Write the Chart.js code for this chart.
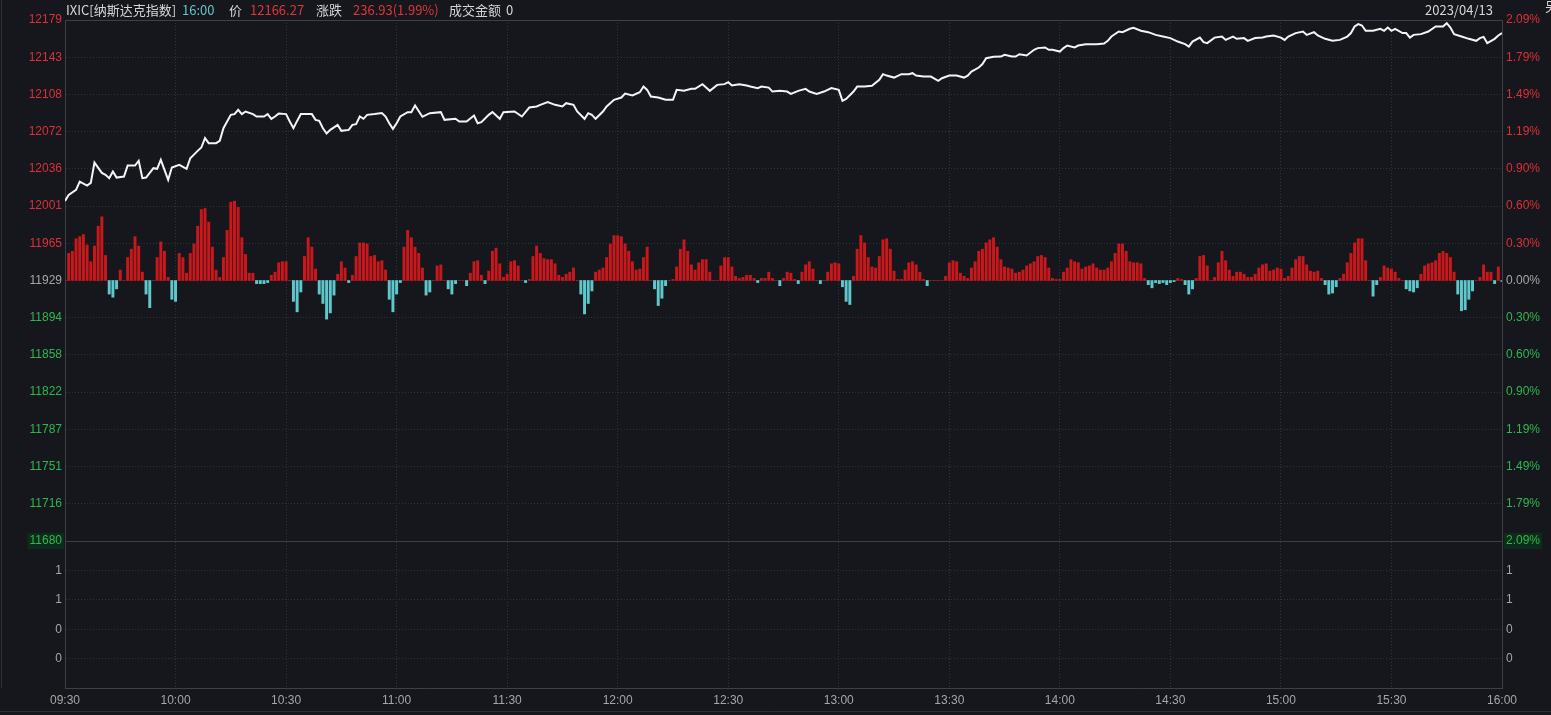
<!DOCTYPE html>
<html><head><meta charset="utf-8">
<script src="https://cdn.jsdelivr.net/npm/chart.js@4.4.0/dist/chart.umd.min.js"></script>
<style>
html,body{margin:0;padding:0;background:#15171c;overflow:hidden;}
#wrap{position:relative;width:1551px;height:715px;overflow:hidden;}
canvas{position:absolute;left:0;top:0;}
.hd{position:absolute;top:1px;font:13px "Noto Sans CJK SC","Liberation Sans",sans-serif;line-height:18px;white-space:nowrap;color:#d6d6d6;}
</style></head><body>
<div id="wrap">
<canvas id="c" width="1551" height="715"></canvas>
<span class="hd" style="left:66px">IXIC[纳斯达克指数]</span>
<span class="hd" style="left:182px;color:#5ec8c8">16:00</span>
<span class="hd" style="left:229px">价</span>
<span class="hd" style="left:250px;color:#e0353b">12166.27</span>
<span class="hd" style="left:316px">涨跌</span>
<span class="hd" style="left:353px;color:#e0353b">236.93(1.99%)</span>
<span class="hd" style="left:449px">成交金额</span>
<span class="hd" style="left:506px">0</span>
<span class="hd" style="left:1425px">2023/04/13</span>
<span class="hd" style="left:1545px;top:-3px">另</span>
</div>
<script>
// ---- data ----
const PREV_CLOSE = 11929.34;
const RANGE = 249.5;

const priceMinute = [0,1,3,4,6,7,8,10,11,12,13,14,16,17,19,20,21,22,24,25,26,27,28,29,31,33,34,36,37,38,39,41,42,43,45,46,47,48,49,51,52,54,55,56,57,58,60,61,62,63,64,67,68,69,70,71,72,74,75,77,78,79,80,81,82,84,86,87,88,89,90,91,93,94,95,97,99,102,103,106,107,109,111,112,113,115,116,118,119,122,124,126,128,129,131,133,135,136,138,139,141,142,143,144,146,147,149,151,152,154,156,157,158,159,161,163,165,166,168,170,171,173,174,175,177,179,180,181,183,185,186,188,189,191,192,194,196,197,199,201,202,204,206,208,210,211,212,214,215,217,219,221,222,223,225,227,229,230,231,233,235,237,238,240,242,244,245,246,248,249,250,252,254,255,257,258,259,261,263,264,266,267,268,270,271,272,274,275,277,280,282,283,284,286,287,289,290,292,294,296,298,300,302,304,305,306,308,309,310,312,314,315,317,318,320,321,323,325,326,328,330,331,332,334,336,337,339,340,342,344,346,348,349,350,351,352,353,355,357,358,359,360,361,363,364,365,366,368,370,372,374,375,376,377,379,381,383,384,385,386,388,389,390];
const priceValue = [12005.6,12011.3,12016.1,12024.1,12020.3,12022.8,12042.3,12032.4,12030.5,12027.3,12033.7,12027.9,12028.9,12039.4,12039.4,12043.9,12027.3,12027.9,12036.9,12036.3,12044.9,12035.3,12025.7,12037.5,12040.1,12036.3,12046.5,12053.5,12056.7,12065.7,12060.9,12060.9,12063.1,12075.2,12088.0,12088.7,12092.8,12088.7,12091.2,12088.7,12086.4,12086.4,12088.7,12084.2,12086.4,12089.2,12088.7,12081.6,12075.2,12082.2,12088.7,12088.7,12083.2,12082.2,12075.2,12070.1,12073.6,12078.4,12072.7,12073.6,12078.4,12079.1,12086.4,12084.2,12088.0,12088.7,12089.7,12086.4,12080.0,12074.6,12080.0,12086.4,12090.6,12090.6,12096.9,12086.1,12089.6,12090.6,12083.2,12084.2,12081.6,12081.6,12087.3,12080.0,12081.0,12088.0,12090.6,12084.2,12090.6,12091.2,12086.4,12095.0,12096.0,12097.6,12100.2,12097.6,12096.0,12099.2,12097.6,12091.2,12084.2,12089.6,12088.0,12084.2,12091.2,12096.0,12102.4,12104.6,12108.4,12106.5,12109.7,12115.1,12111.9,12105.5,12104.6,12102.4,12102.4,12112.0,12111.0,12112.9,12112.9,12117.4,12114.1,12111.0,12116.7,12117.4,12119.3,12116.1,12117.4,12116.1,12115.1,12113.6,12115.1,12114.1,12110.3,12111.0,12110.3,12108.1,12111.0,12112.9,12110.3,12108.1,12110.3,12113.6,12111.9,12101.4,12103.3,12110.3,12115.1,12115.1,12115.8,12121.5,12127.0,12125.6,12123.7,12127.0,12127.0,12127.9,12125.6,12124.7,12124.7,12120.6,12123.1,12125.6,12125.6,12123.7,12125.6,12129.5,12133.3,12136.6,12142.3,12143.6,12143.8,12145.5,12143.8,12143.8,12146.1,12144.8,12150.3,12151.9,12152.5,12150.3,12150.3,12148.6,12151.9,12154.4,12152.5,12154.4,12155.7,12155.7,12156.3,12158.9,12163.0,12167.8,12167.2,12170.4,12171.3,12168.5,12167.2,12164.6,12163.0,12161.5,12158.2,12155.7,12153.4,12158.2,12162.0,12157.6,12156.7,12162.0,12163.0,12159.8,12163.0,12160.8,12161.5,12158.9,12161.5,12162.0,12163.0,12164.0,12162.0,12159.8,12163.0,12166.3,12167.8,12164.6,12167.2,12164.0,12160.8,12158.9,12159.8,12163.0,12166.3,12172.6,12174.9,12173.6,12168.5,12168.5,12170.4,12168.5,12171.6,12168.5,12170.4,12166.3,12166.3,12162.0,12164.6,12165.3,12167.8,12172.6,12172.6,12175.8,12171.6,12165.3,12163.0,12160.8,12158.9,12161.5,12162.7,12156.7,12160.8,12164.0,12166.27];

// per-minute red/green flow bars (index points relative to previous close), minute 0..390
const flowValue = [
0,26,28,40,42,44,34,18,33,52,
61,24,-13,-16,-8,10,0,22,30,42,
33,8,-13,-26,0,22,37,28,3,-18,
-20,26,22,7,26,35,52,68,69,56,
32,10,3,22,48,75,76,70,41,25,
7,7,-3,-3,-3,-2,5,8,17,18,
18,0,-20,-30,-11,23,41,32,11,-13,
-22,-37,-31,-14,6,18,12,-2,5,23,
36,36,35,23,24,18,19,10,-18,-30,
-13,-2,32,48,41,32,26,12,-14,-11,
0,14,15,0,-8,-13,-3,0,0,-5,
7,18,19,5,-3,9,28,31,16,3,
6,18,19,14,0,-2,1,23,33,26,
21,20,20,16,5,3,6,8,12,0,
-13,-32,-22,-10,8,10,12,22,35,43,
43,42,35,28,18,10,11,22,32,0,
-8,-24,-17,-5,0,1,13,30,39,28,
15,10,17,20,20,8,0,0,14,22,
22,13,4,2,3,5,5,2,-2,2,
2,8,2,0,-5,2,8,7,1,-3,
8,15,18,11,0,-3,0,8,16,17,
16,-6,-20,-23,4,30,43,36,22,13,
12,23,39,40,30,9,1,1,10,17,
18,15,8,1,-5,0,0,0,0,4,
17,19,18,7,4,2,12,18,28,30,
36,39,41,32,20,13,12,11,7,8,
10,14,16,18,23,24,22,12,2,1,
1,8,12,20,18,17,11,13,14,16,
12,10,10,12,18,26,35,35,28,18,
17,17,16,2,-4,-7,-2,-3,-2,-4,
-2,-1,2,1,-4,-13,-8,2,23,24,
14,0,3,17,28,19,10,4,8,8,
6,3,3,6,12,15,16,9,10,12,
11,2,4,12,20,23,23,15,9,8,
9,2,-4,-13,-12,-6,2,6,17,26,
36,40,40,19,0,-15,-4,3,14,12,
11,8,2,0,-8,-10,-11,-7,6,14,
16,17,19,26,28,26,22,8,-13,-29,
-28,-18,-10,0,3,15,8,8,-3,13,
-1];

const tickMinutes = [0,30,60,90,120,150,180,210,240,270,300,330,360,390];
const timeLabels = ['09:30','10:00','10:30','11:00','11:30','12:00','12:30','13:00','13:30','14:00','14:30','15:00','15:30','16:00'];
// top to bottom
const priceTickLabels = ['12179','12143','12108','12072','12036','12001','11965','11929','11894','11858','11822','11787','11751','11716','11680'];
const pctTickLabels = ['2.09%','1.79%','1.49%','1.19%','0.90%','0.60%','0.30%','0.00%','0.30%','0.60%','0.90%','1.19%','1.49%','1.79%','2.09%'];
// lower panel, bottom to top
const lowerTickValues = [0.2,0.4,0.6,0.8];
const lowerTickLabels = ['0','0','1','1'];

// ---- styles ----
const RED = '#dc3038', GREEN = '#2db84d', GRAY = '#a6a6a6';
const BAR_RED = '#c8181c', BAR_CYAN = '#5ec8cc';
const GRID = '#30333a', AXIS = '#3d4047';
const STEP = RANGE / 7;
const edge = c => (c.index === 0 || c.index === 14);

Chart.defaults.font.family = '"Liberation Sans", Arial, sans-serif';
Chart.defaults.font.size = 12;

const framePlugin = {
  id: 'frame',
  beforeDraw(chart) {
    const c = chart.ctx;
    c.save();
    c.strokeStyle = '#2c2f36'; c.lineWidth = 1;
    c.beginPath();
    c.moveTo(1.5, 0); c.lineTo(1.5, chart.chartArea.bottom);
    c.moveTo(0, chart.height - 3.5); c.lineTo(chart.width, chart.height - 3.5);
    c.stroke();
    c.restore();
  }
};

function priceTicks(s) {
  s.ticks = priceTickLabels.map((_, i) => ({ value: PREV_CLOSE + (7 - i) * STEP })).reverse();
}
const priceColor = c => c.index > 7 ? RED : (c.index < 7 ? GREEN : GRAY);

new Chart(document.getElementById('c'), {
  type: 'bar',
  data: {
    datasets: [
      {
        type: 'line', xAxisID: 'x', yAxisID: 'y', order: 0,
        data: priceMinute.map((m, i) => ({ x: m, y: priceValue[i] })),
        borderColor: '#f4f4f4', borderWidth: 2, pointRadius: 0, tension: 0
      },
      {
        type: 'bar', xAxisID: 'x', yAxisID: 'y', order: 1,
        data: flowValue.map((v, i) => ({ x: i, y: [PREV_CLOSE, PREV_CLOSE + v] })),
        backgroundColor: flowValue.map(v => v >= 0 ? BAR_RED : BAR_CYAN),
        barThickness: 2.3, borderWidth: 0, grouped: false
      }
    ]
  },
  options: {
    responsive: false, animation: false, events: [],
    layout: { padding: { top: 20, left: 0, right: 0, bottom: 0 } },
    plugins: { legend: { display: false }, tooltip: { enabled: false } },
    scales: {
      x: {
        type: 'linear', min: 0, max: 390, offset: false,
        afterBuildTicks: s => { s.ticks = tickMinutes.map(v => ({ value: v })); },
        ticks: { callback: (v, i) => timeLabels[i], autoSkip: false, maxRotation: 0, color: GRAY, padding: 5 },
        grid: { color: c => (c.index === 0 || c.index === tickMinutes.length - 1) ? AXIS : GRID, drawTicks: false, offset: false },
        border: { color: AXIS, dash: c => (c.index === 0 || c.index === tickMinutes.length - 1) ? [] : [1, 2] },
        afterFit: s => { s.height = 27; }
      },
      y: {
        type: 'linear', position: 'left', stack: 'L', stackWeight: 521, weight: 1,
        min: PREV_CLOSE - RANGE, max: PREV_CLOSE + RANGE,
        afterBuildTicks: priceTicks,
        ticks: {
          autoSkip: false, padding: 3, color: priceColor,
          callback: (v, i) => priceTickLabels[14 - i],
          showLabelBackdrop: c => c.index === 0, backdropColor: '#0f2b19', backdropPadding: { x: 2, y: 1 }
        },
        grid: { color: c => edge(c) ? AXIS : GRID, drawTicks: false },
        border: { color: AXIS, dash: c => edge(c) ? [] : [1, 2] },
        afterFit: s => { s.width = 65; }
      },
      yv: {
        type: 'linear', position: 'left', stack: 'L', stackWeight: 147, weight: 0,
        min: 0, max: 1,
        afterBuildTicks: s => { s.ticks = lowerTickValues.map(v => ({ value: v })); },
        ticks: { autoSkip: false, padding: 3, color: GRAY, callback: (v, i) => lowerTickLabels[i] },
        grid: { color: GRID, drawTicks: false },
        border: { color: AXIS, dash: [1, 2] },
        afterFit: s => { s.width = 65; }
      },
      yp: {
        type: 'linear', position: 'right', stack: 'R', stackWeight: 521, weight: 0,
        min: PREV_CLOSE - RANGE, max: PREV_CLOSE + RANGE,
        afterBuildTicks: priceTicks,
        ticks: {
          autoSkip: false, padding: 4, color: priceColor,
          callback: (v, i) => pctTickLabels[14 - i],
          showLabelBackdrop: c => c.index === 0, backdropColor: '#0f2b19', backdropPadding: { x: 2, y: 1 }
        },
        grid: { drawOnChartArea: false, drawTicks: false },
        border: { color: AXIS },
        afterFit: s => { s.width = 49; }
      },
      yvr: {
        type: 'linear', position: 'right', stack: 'R', stackWeight: 147, weight: 1,
        min: 0, max: 1,
        afterBuildTicks: s => { s.ticks = lowerTickValues.map(v => ({ value: v })); },
        ticks: { autoSkip: false, padding: 4, color: GRAY, callback: (v, i) => lowerTickLabels[i] },
        grid: { drawOnChartArea: false, drawTicks: false },
        border: { color: AXIS },
        afterFit: s => { s.width = 49; }
      }
    }
  },
  plugins: [framePlugin]
});
</script>
</body></html>
